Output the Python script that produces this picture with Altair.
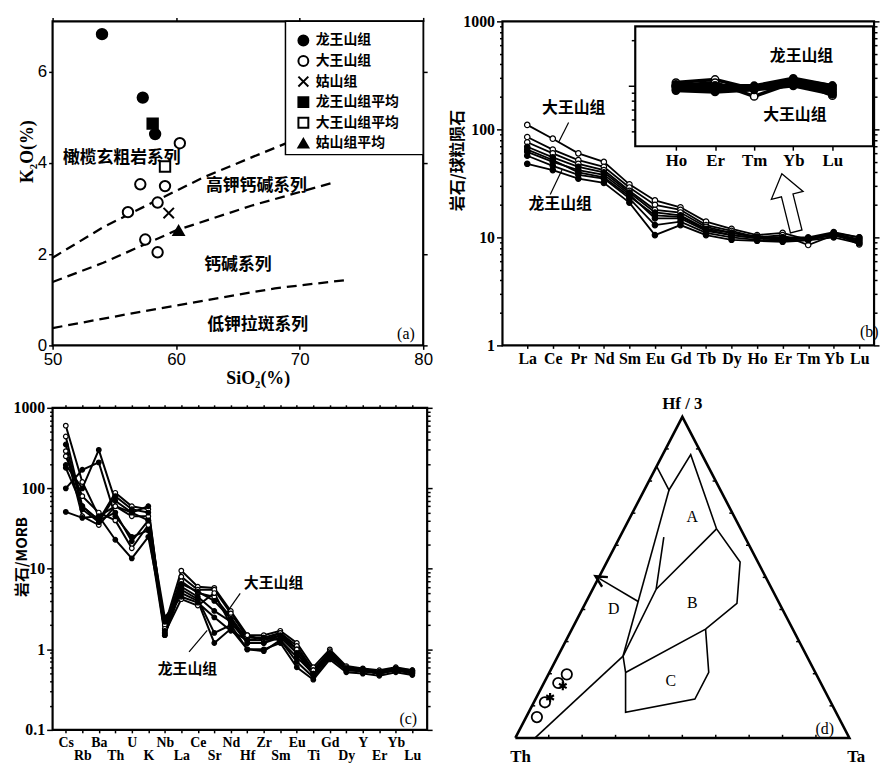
import altair as alt
import pandas as pd

SERIF = "Liberation Serif"
SANS = "Liberation Sans"
CJK = "Noto Sans CJK SC"

# ===================== (a) K2O - SiO2 =====================
a_groups = ["龙王山组", "大王山组", "姑山组", "龙王山组平均", "大王山组平均", "姑山组平均"]
lws_sio2 = [54.0, 57.3, 58.3]
lws_k2o = [6.82, 5.43, 4.63]
dws_sio2 = [60.3, 57.1, 59.1, 58.5, 56.1, 57.5, 58.5]
dws_k2o = [4.43, 3.53, 3.49, 3.13, 2.92, 2.32, 2.04]
gs_sio2 = [59.4]
gs_k2o = [2.90]
avg_sio2 = [58.1, 59.1, 60.2]
avg_k2o = [4.86, 3.92, 2.52]
bnd_upper_sio2 = [50, 54.1, 58.0, 62.2, 66.2, 70.0]
bnd_upper_k2o = [1.92, 2.59, 3.12, 3.68, 4.13, 4.55]
bnd_mid_sio2 = [50, 54.1, 60.0, 66.2, 72.9]
bnd_mid_k2o = [1.39, 1.81, 2.52, 3.07, 3.58]
bnd_low_sio2 = [50, 56.0, 62.2, 68.0, 73.7]
bnd_low_k2o = [0.38, 0.68, 0.98, 1.25, 1.43]
field_names = ["橄榄玄粗岩系列", "高钾钙碱系列", "钙碱系列", "低钾拉斑系列"]
field_sio2 = [55.6, 66.5, 65.0, 66.6]
field_k2o = [4.10, 3.49, 1.75, 0.44]
a_ticks_x = [50, 60, 70, 80]
a_ticks_y = [0, 2, 4, 6]
# legend box placement (in SiO2 / K2O units)
leg_box = [68.85, 80.0, 4.18, 7.1]
leg_sym_x = 70.3
leg_txt_x = 71.3
leg_row_y = [6.68, 6.23, 5.78, 5.33, 4.88, 4.43]

# ===================== (b) REE chondrite-normalised =====================
ree = ["La", "Ce", "Pr", "Nd", "Sm", "Eu", "Gd", "Tb", "Dy", "Ho", "Er", "Tm", "Yb", "Lu"]
b_series = ["D1", "D2", "D3", "L1", "L2", "L3", "L4", "L5"]
b_groups = ["大王山组", "大王山组", "大王山组", "龙王山组", "龙王山组", "龙王山组", "龙王山组", "龙王山组"]
b_D1 = [110, 82, 60, 50, 31, 22, 19, 14, 12.0, 10.5, 11.0, 9.5, 11.0, 10.0]
b_D2 = [85, 65, 52, 45, 29, 20, 18, 13, 11.5, 10.0, 10.5, 8.5, 10.5, 9.0]
b_D3 = [76, 60, 48, 42, 27, 18, 17, 12.5, 11.0, 10.0, 10.0, 9.8, 11.0, 8.6]
b_L1 = [69, 55, 45, 40, 26, 17, 16, 12, 11.0, 10.2, 10.0, 10.0, 11.2, 10.0]
b_L2 = [62, 50, 42, 38, 25, 15, 15, 11.5, 10.5, 9.8, 9.5, 9.8, 10.5, 9.5]
b_L3 = [57, 46, 38, 35, 23, 13, 14, 11, 10.0, 9.5, 9.3, 9.5, 10.5, 9.2]
b_L4 = [48, 42, 35, 32, 21, 10.5, 13, 10.5, 9.5, 9.3, 9.1, 9.4, 10.0, 8.8]
b_L5 = [65, 52, 40, 36, 24, 16, 15.5, 11.8, 10.5, 9.9, 9.8, 9.7, 10.8, 9.6]
b_values = [b_D1, b_D2, b_D3, b_L1, b_L2, b_L3, b_L4, b_L5]
b_label_text = ["大王山组", "龙王山组"]
b_label_x = [1.82, 1.29]
b_label_y = [158, 20.2]
b_lead_x = [1.62, 0.90]
b_lead_y = [116, 25]
b_lead_x2 = [1.23, 1.36]
b_lead_y2 = [76, 42]
b_arrow_x = [10.25]
b_arrow_y = [21]
inset_ree = ["Ho", "Er", "Tm", "Yb", "Lu"]
inset_label_text = ["龙王山组", "大王山组"]
inset_label_x = [3.21, 3.04]
inset_label_y = [15.7, 6.35]

# ===================== (c) MORB-normalised spider =====================
c_elems = ["Cs", "Rb", "Ba", "Th", "U", "K", "Nb", "La", "Ce", "Sr", "Nd",
           "Hf", "Zr", "Sm", "Eu", "Ti", "Gd", "Dy", "Y", "Er", "Yb", "Lu"]
c_groups = ["大王山组"] * 4 + ["龙王山组"] * 5
c_S1 = [600, 120, 45, 60, 50, 40, 2.0, 9.5, 6.0, 5.8, 3.0, 1.5, 1.5, 1.7, 1.2, 0.60, 1.00, 0.62, 0.58, 0.55, 0.60, 0.55]
c_S2 = [440, 60, 40, 88, 60, 55, 1.8, 8.0, 5.5, 5.5, 2.8, 1.4, 1.4, 1.6, 1.1, 0.55, 0.95, 0.60, 0.57, 0.53, 0.58, 0.55]
c_S3 = [290, 45, 35, 60, 45, 45, 1.6, 7.0, 5.0, 4.5, 2.5, 1.3, 1.3, 1.5, 1.0, 0.50, 0.90, 0.58, 0.55, 0.52, 0.57, 0.52]
c_S4 = [250, 80, 50, 40, 18, 35, 1.6, 4.2, 3.5, 5.0, 2.0, 1.5, 1.3, 1.6, 1.0, 0.55, 0.90, 0.57, 0.55, 0.50, 0.57, 0.53]
c_S5 = [195, 100, 300, 70, 50, 60, 1.5, 6.0, 4.5, 3.0, 2.2, 1.2, 1.2, 1.4, 0.9, 0.48, 0.85, 0.56, 0.55, 0.50, 0.56, 0.50]
c_S6 = [100, 170, 210, 45, 25, 30, 1.5, 5.5, 4.2, 1.6, 2.0, 1.0, 0.95, 1.3, 0.7, 0.45, 0.80, 0.55, 0.53, 0.50, 0.55, 0.52]
c_S7 = [51, 43, 45, 23, 13.5, 25, 2.2, 5.0, 4.0, 1.2, 1.8, 1.0, 1.0, 1.2, 0.6, 0.42, 0.75, 0.52, 0.50, 0.47, 0.52, 0.48]
c_S8 = [180, 60, 40, 50, 22, 40, 2.5, 4.5, 3.8, 2.5, 1.7, 1.3, 1.4, 1.3, 0.8, 0.50, 0.85, 0.55, 0.55, 0.50, 0.55, 0.50]
c_S9 = [350, 55, 38, 80, 55, 50, 1.7, 6.5, 5.2, 4.0, 2.4, 1.2, 1.2, 1.5, 0.9, 0.50, 0.90, 0.58, 0.56, 0.52, 0.58, 0.54]
c_values = [c_S1, c_S2, c_S3, c_S4, c_S5, c_S6, c_S7, c_S8, c_S9]
c_label_text = ["大王山组", "龙王山组"]
c_label_x = [12.59, 7.37]
c_label_y = [6.6, 0.575]
c_lead_x = [10.57, 7.47]
c_lead_y = [4.95, 0.93]
c_lead_x2 = [9.77, 8.57]
c_lead_y2 = [2.9, 1.72]

# ===================== (d) Hf/3 - Th - Ta ternary (hf, th, ta) =====================
d_outline = [(0, 1, 0), (0, 0, 1), (1, 0, 0), (0, 1, 0)]
d_seg_outer = [(0.846, 0.154, 0.000), (0.772, 0.154, 0.074), (0.882, 0.034, 0.084), (0.651, 0.072, 0.277),
               (0.548, 0.053, 0.399), (0.419, 0.127, 0.454), (0.339, 0.261, 0.400), (0.204, 0.568, 0.228)]
d_seg_ab = [(0.651, 0.072, 0.277), (0.463, 0.347, 0.190)]
d_seg_long = [(0.772, 0.154, 0.074), (0.255, 0.550, 0.195)]
d_seg_inner = [(0.625, 0.243, 0.132), (0.463, 0.347, 0.190), (0.255, 0.550, 0.195)]
d_seg_c = [(0.339, 0.261, 0.400), (0.204, 0.319, 0.477), (0.121, 0.402, 0.477), (0.080, 0.630, 0.290),
           (0.204, 0.568, 0.228), (0.255, 0.550, 0.195)]
d_seg_base = [(0.0, 0.941, 0.059), (0.255, 0.550, 0.195)]
d_arrow = [(0.424, 0.419, 0.157), (0.496, 0.500, 0.004)]
d_circles = [(0.065, 0.903, 0.032), (0.111, 0.856, 0.033), (0.171, 0.786, 0.043), (0.198, 0.747, 0.055)]
d_stars = [(0.126, 0.833, 0.041), (0.162, 0.777, 0.061)]
d_vertex_labels = ["Hf / 3", "Th", "Ta"]
d_vertex_pos = [(1.04, -0.02, -0.02), (-0.059, 1.014, 0.045), (-0.059, 0.0, 1.05)]
d_field_labels = ["A", "B", "C", "D", "(d)"]
d_field_pos = [(0.689, 0.126, 0.185), (0.419, 0.261, 0.320), (0.178, 0.446, 0.376),
               (0.401, 0.505, 0.094), (0.029, 0.059, 0.912)]
d_edge_ticks = [0.1, 0.2, 0.3, 0.4, 0.5, 0.6, 0.7, 0.8, 0.9]

# ===================== helpers =====================
X_PATH = "M-1,-1L1,1M-1,1L1,-1"
STAR_PATH = "M0,-1L0,1M-0.87,-0.5L0.87,0.5M-0.87,0.5L0.87,-0.5"
BLOCK_ARROW = "M0,-1L0.55,-0.25L0.2,-0.25L0.2,1L-0.2,1L-0.2,-0.25L-0.55,-0.25Z"
OPEN_HEAD = "M-0.7,0.8L0,-0.6L0.7,0.8"
TICK_UP = "M0,0L0,-1"
TICK_RIGHT = "M0,0L1,0"
TICK_LEFT = "M0,0L-1,0"
VIEW = alt.ViewBackground(stroke="black", strokeWidth=2.2)


def ax(**kw):
    base = dict(domain=False, grid=False, tickColor="black", tickWidth=1.5, tickSize=4,
                labelColor="black", labelFont=SERIF, labelFontSize=16, labelFontWeight="bold",
                labelFlush=False, labelOverlap=False, labelPadding=2, minExtent=0,
                titleColor="black", titleFont=SERIF, titleFontSize=18, titleFontWeight="bold")
    base.update(kw)
    return alt.Axis(**base)


def names_expr(names):
    return "[" + ",".join("'%s'" % n for n in names) + "][datum.value]"


def tick_cond(majors, big=6, small=3):
    return {"condition": {"test": "indexof(%s, datum.value) >= 0" % majors, "value": big}, "value": small}


def label_decades(majors):
    return "indexof(%s, datum.value) >= 0 ? '' + datum.value : ''" % majors


# ===================== panel (a) =====================
WA, HA = 374, 327
a_pts_df = pd.DataFrame({
    "sio2": lws_sio2 + dws_sio2 + gs_sio2 + avg_sio2,
    "k2o": lws_k2o + dws_k2o + gs_k2o + avg_k2o,
    "group": [a_groups[0]] * len(lws_sio2) + [a_groups[1]] * len(dws_sio2)
             + [a_groups[2]] * len(gs_sio2) + a_groups[3:],
})
rows = []
for name, xs, ys in [("upper", bnd_upper_sio2, bnd_upper_k2o), ("mid", bnd_mid_sio2, bnd_mid_k2o),
                     ("low", bnd_low_sio2, bnd_low_k2o)]:
    for i, (x, y) in enumerate(zip(xs, ys)):
        rows.append({"line": name, "ord": i, "sio2": x, "k2o": y})
a_bnd_df = pd.DataFrame(rows)
a_field_df = pd.DataFrame({"sio2": field_sio2, "k2o": field_k2o, "name": field_names})
a_tag_df = pd.DataFrame({"sio2": [78.6], "k2o": [0.24], "name": ["(a)"]})
a_legbox_df = pd.DataFrame({"x": [leg_box[0]], "x2": [leg_box[1]], "y": [leg_box[2]], "y2": [leg_box[3]]})
a_legrow_df = pd.DataFrame({"group": a_groups, "sx": [leg_sym_x] * len(a_groups),
                            "tx": [leg_txt_x] * len(a_groups), "y": leg_row_y})

sx_a = alt.Scale(domain=[50, 80], nice=False, zero=False)
sy_a = alt.Scale(domain=[0, 7.1], nice=False, zero=False)
shape_a = alt.Scale(domain=a_groups, range=["circle", "circle", X_PATH, "square", "square", "triangle-up"])
fill_a = alt.Scale(domain=a_groups, range=["black", "white", "transparent", "black", "white", "black"])

a_lines = alt.Chart(a_bnd_df).mark_line(color="black", strokeWidth=2.3, strokeDash=[10, 6]).encode(
    x=alt.X("sio2:Q", scale=sx_a, axis=ax(orient="top", labels=False, title=None, values=a_ticks_x)),
    y=alt.Y("k2o:Q", scale=sy_a, axis=ax(orient="right", labels=False, title=None, values=a_ticks_y)),
    detail="line:N", order="ord:Q")

a_text = alt.Chart(a_field_df).mark_text(font=CJK, fontSize=17, fontWeight="bold", color="black").encode(
    x=alt.X("sio2:Q", scale=sx_a, axis=None), y=alt.Y("k2o:Q", scale=sy_a, axis=None), text="name:N")

a_pts = alt.Chart(a_pts_df).mark_point(size=110, stroke="black", strokeWidth=2, opacity=1, fillOpacity=1).encode(
    x=alt.X("sio2:Q", scale=sx_a, axis=ax(orient="bottom", values=a_ticks_x, title="SiO₂(%)",
                                            labelFont=SANS, labelFontWeight="normal", labelFontSize=17,
                                            titlePadding=2, titleX=207)),
    y=alt.Y("k2o:Q", scale=sy_a, axis=ax(orient="left", values=a_ticks_y, title="K₂O(%)",
                                           labelFont=SANS, labelFontWeight="normal", labelFontSize=17,
                                           titleX=-25, titleY=131, titleBaseline="middle")),
    shape=alt.Shape("group:N", scale=shape_a, legend=None),
    fill=alt.Fill("group:N", scale=fill_a, legend=None),
)

a_legbox = alt.Chart(a_legbox_df).mark_rect(fill="white", stroke="black", strokeWidth=1.5).encode(
    x=alt.X("x:Q", scale=sx_a, axis=None), x2="x2:Q", y=alt.Y("y:Q", scale=sy_a, axis=None), y2="y2:Q")
a_legsym = alt.Chart(a_legrow_df).mark_point(size=100, stroke="black", strokeWidth=2, opacity=1,
                                            fillOpacity=1).encode(
    x=alt.X("sx:Q", scale=sx_a, axis=None), y=alt.Y("y:Q", scale=sy_a, axis=None),
    shape=alt.Shape("group:N", scale=shape_a, legend=None),
    fill=alt.Fill("group:N", scale=fill_a, legend=None))
a_legtxt = alt.Chart(a_legrow_df).mark_text(font=CJK, fontSize=14, fontWeight="bold", color="black",
                                           align="left").encode(
    x=alt.X("tx:Q", scale=sx_a, axis=None), y=alt.Y("y:Q", scale=sy_a, axis=None), text="group:N")

a_tag = alt.Chart(a_tag_df).mark_text(font=SERIF, fontSize=16, color="black").encode(
    x=alt.X("sio2:Q", scale=sx_a, axis=None), y=alt.Y("k2o:Q", scale=sy_a, axis=None), text="name:N")

panel_a = alt.layer(a_lines, a_text, a_pts, a_legbox, a_legsym, a_legtxt, a_tag).resolve_axis(
    x="independent", y="independent").properties(width=WA, height=HA, view=VIEW)

# ===================== panel (b) =====================
WB, HB = 375, 327
rows = []
for s, g, vals in zip(b_series, b_groups, b_values):
    for i, v in enumerate(vals):
        rows.append({"series": s, "group": g, "idx": i, "value": v})
b_df = pd.DataFrame(rows)
b_lab_df = pd.DataFrame({"x": b_label_x, "y": b_label_y, "t": b_label_text})
b_lead_df = pd.DataFrame({"x": b_lead_x, "y": b_lead_y, "x2": b_lead_x2, "y2": b_lead_y2})
b_arrow_df = pd.DataFrame({"x": b_arrow_x, "y": b_arrow_y})
b_tag_df = pd.DataFrame({"x": [13.39], "y": [1.34], "t": ["(b)"]})

sx_b = alt.Scale(domain=[-0.97, 13.58], nice=False, zero=False)
sy_b = alt.Scale(type="log", domain=[1, 1000], nice=False)
b_ticks = [k * 10 ** e for e in range(0, 3) for k in range(1, 10)] + [1000]
B_MAJ = "[1,10,100,1000]"
fill_grp = alt.Scale(domain=["大王山组", "龙王山组"], range=["white", "black"])

b_lines = alt.Chart(b_df).mark_line(color="black", strokeWidth=1.8).encode(
    x=alt.X("idx:Q", scale=sx_b, axis=ax(orient="bottom", values=list(range(len(ree))),
                                          labelExpr=names_expr(ree), title=None, tickSize=3, labelFontSize=16)),
    y=alt.Y("value:Q", scale=sy_b, axis=ax(orient="left", values=b_ticks, labelExpr=label_decades(B_MAJ),
                                            tickSize=tick_cond(B_MAJ), title="岩石/球粒陨石", titleFont=CJK,
                                            titleFontSize=16, titleX=-45, titleY=140, titleBaseline="middle",
                                            labelFontSize=16)),
    detail="series:N", order="idx:Q")
b_pts = alt.Chart(b_df).mark_point(size=30, stroke="black", strokeWidth=1.2, opacity=1, fillOpacity=1,
                                   shape="circle").encode(
    x=alt.X("idx:Q", scale=sx_b, axis=None),
    y=alt.Y("value:Q", scale=sy_b, axis=ax(orient="right", values=b_ticks, labels=False,
                                            tickSize=tick_cond(B_MAJ, 5, 3), title=None)),
    fill=alt.Fill("group:N", scale=fill_grp, legend=None))
b_lab = alt.Chart(b_lab_df).mark_text(font=CJK, fontSize=16, fontWeight="bold", color="black").encode(
    x=alt.X("x:Q", scale=sx_b, axis=None), y=alt.Y("y:Q", scale=sy_b, axis=None), text="t:N")
b_lead = alt.Chart(b_lead_df).mark_rule(color="black", strokeWidth=1.2).encode(
    x=alt.X("x:Q", scale=sx_b, axis=None), y=alt.Y("y:Q", scale=sy_b, axis=None), x2="x2:Q", y2="y2:Q")
b_arrow = alt.Chart(b_arrow_df).mark_point(shape=BLOCK_ARROW, size=3600, angle=346, fill="white",
                                           stroke="black", strokeWidth=1.3, opacity=1, fillOpacity=1).encode(
    x=alt.X("x:Q", scale=sx_b, axis=None), y=alt.Y("y:Q", scale=sy_b, axis=None))
b_tag = alt.Chart(b_tag_df).mark_text(font=SERIF, fontSize=16, color="black").encode(
    x=alt.X("x:Q", scale=sx_b, axis=None), y=alt.Y("y:Q", scale=sy_b, axis=None), text="t:N")

b_main = alt.layer(b_lines, b_pts, b_lab, b_lead, b_arrow, b_tag).resolve_axis(x="independent", y="independent")

# inset
I_X0, I_X1 = -1.04, 5.04
I_Y0, I_Y1 = 3.97, 24.8
sx_i = alt.Scale(domain=[I_X0, I_X1], range=[134, 374], nice=False, zero=False)
sy_i = alt.Scale(type="log", domain=[I_Y0, I_Y1], range=[126, 5], nice=False)
i_frame_df = pd.DataFrame({"x": [I_X0], "x2": [I_X1], "y": [I_Y0], "y2": [I_Y1]})
i_lab_df = pd.DataFrame({"x": inset_label_x, "y": inset_label_y, "t": inset_label_text})

i_rect = alt.Chart(i_frame_df).mark_rect(fill="white", stroke="black", strokeWidth=2.2).encode(
    x=alt.X("x:Q", scale=sx_i, axis=ax(orient="bottom", offset=-(HB - 126), values=list(range(5)),
                                        labelExpr=names_expr(inset_ree), title=None, labelFontSize=17)),
    x2="x2:Q",
    y=alt.Y("y:Q", scale=sy_i, axis=ax(orient="left", offset=-134, values=[5, 6, 7, 8, 9, 10, 20],
                                        labels=False, title=None, tickSize=tick_cond("[10]", 7, 4))),
    y2="y2:Q")
i_lines = alt.Chart(b_df).transform_filter("datum.idx >= 9").transform_calculate(
    hidx="datum.idx - 9").mark_line(color="black", strokeWidth=3.5).encode(
    x=alt.X("hidx:Q", scale=sx_i, axis=None), y=alt.Y("value:Q", scale=sy_i, axis=None),
    detail="series:N", order="hidx:Q")
i_pts = alt.Chart(b_df).transform_filter("datum.idx >= 9").transform_calculate(
    hidx="datum.idx - 9").mark_point(size=55, stroke="black", strokeWidth=1.5, opacity=1, fillOpacity=1,
                                     shape="circle").encode(
    x=alt.X("hidx:Q", scale=sx_i, axis=None), y=alt.Y("value:Q", scale=sy_i, axis=None),
    fill=alt.Fill("group:N", scale=fill_grp, legend=None))
i_lab = alt.Chart(i_lab_df).mark_text(font=CJK, fontSize=16, fontWeight="bold", color="black").encode(
    x=alt.X("x:Q", scale=sx_i, axis=None), y=alt.Y("y:Q", scale=sy_i, axis=None), text="t:N")
b_inset = alt.layer(i_rect, i_lines, i_pts, i_lab).resolve_axis(x="independent", y="independent")

panel_b = alt.layer(b_main, b_inset).resolve_scale(x="independent", y="independent").properties(
    width=WB, height=HB, view=VIEW)

# ===================== panel (c) =====================
WC, HC = 378, 325
rows = []
for si, (g, vals) in enumerate(zip(c_groups, c_values)):
    for i, v in enumerate(vals):
        rows.append({"series": "S%d" % si, "group": g, "idx": i, "value": v})
c_df = pd.DataFrame(rows)
c_lab_df = pd.DataFrame({"x": c_label_x, "y": c_label_y, "t": c_label_text})
c_lead_df = pd.DataFrame({"x": c_lead_x, "y": c_lead_y, "x2": c_lead_x2, "y2": c_lead_y2})
c_tag_df = pd.DataFrame({"x": [20.76], "y": [0.138], "t": ["(c)"]})

sx_c = alt.Scale(domain=[-0.8, 21.9], nice=False, zero=False)
sy_c = alt.Scale(type="log", domain=[0.1, 1000], nice=False)
c_ticks = [round(k * 10.0 ** e, 6) for e in range(-1, 3) for k in range(1, 10)] + [1000]
C_MAJ = "[0.1,1,10,100,1000]"

c_lines = alt.Chart(c_df).mark_line(color="black", strokeWidth=2).encode(
    x=alt.X("idx:Q", scale=sx_c, axis=ax(orient="bottom", values=list(range(len(c_elems))),
                                          labelExpr=names_expr(c_elems), title=None, tickSize=3,
                                          labelFontSize=14,
                                          labelPadding={"condition": {"test": "datum.value % 2 == 1",
                                                                      "value": 16}, "value": 3})),
    y=alt.Y("value:Q", scale=sy_c, axis=ax(orient="left", values=c_ticks, labelExpr=label_decades(C_MAJ),
                                            tickSize=tick_cond(C_MAJ), title="岩石/MORB", titleFont=CJK,
                                            titleFontSize=15, titleX=-31, titleY=150, titleBaseline="middle",
                                            labelFontSize=16)),
    detail="series:N", order="idx:Q")
c_pts = alt.Chart(c_df).mark_point(size=22, stroke="black", strokeWidth=1.2, opacity=1, fillOpacity=1,
                                   shape="circle").encode(
    x=alt.X("idx:Q", scale=sx_c, axis=ax(orient="top", values=list(range(len(c_elems))), labels=False,
                                          title=None, tickSize=3)),
    y=alt.Y("value:Q", scale=sy_c, axis=ax(orient="right", values=c_ticks, labels=False,
                                            tickSize=tick_cond(C_MAJ, 5, 3), title=None)),
    fill=alt.Fill("group:N", scale=fill_grp, legend=None))
c_lab = alt.Chart(c_lab_df).mark_text(font=CJK, fontSize=15, fontWeight="bold", color="black").encode(
    x=alt.X("x:Q", scale=sx_c, axis=None), y=alt.Y("y:Q", scale=sy_c, axis=None), text="t:N")
c_lead = alt.Chart(c_lead_df).mark_rule(color="black", strokeWidth=1.2).encode(
    x=alt.X("x:Q", scale=sx_c, axis=None), y=alt.Y("y:Q", scale=sy_c, axis=None), x2="x2:Q", y2="y2:Q")
c_tag = alt.Chart(c_tag_df).mark_text(font=SERIF, fontSize=16, color="black").encode(
    x=alt.X("x:Q", scale=sx_c, axis=None), y=alt.Y("y:Q", scale=sy_c, axis=None), text="t:N")

panel_c = alt.layer(c_lines, c_pts, c_lab, c_lead, c_tag).resolve_axis(
    x="independent", y="independent").properties(width=WC, height=HC, view=VIEW)


# ===================== panel (d) =====================
def tern(p):
    hf, th, ta = p
    return ta + 0.5 * hf, hf


def poly_df(segs):
    out = []
    for name, pts in segs:
        for i, p in enumerate(pts):
            x, y = tern(p)
            out.append({"seg": name, "ord": i, "x": x, "y": y})
    return pd.DataFrame(out)


def pts_df(pts):
    return pd.DataFrame([dict(zip(["x", "y"], tern(p))) for p in pts])


WD, HD = 375, 350
sx_d = alt.Scale(domain=[-0.0386, 1.074], nice=False, zero=False)
sy_d = alt.Scale(domain=[-0.052, 1.028], nice=False, zero=False)

d_out_df = poly_df([("outline", d_outline)])
d_seg_df = poly_df([("outer", d_seg_outer), ("ab", d_seg_ab), ("long", d_seg_long), ("inner", d_seg_inner),
                    ("c", d_seg_c), ("base", d_seg_base), ("arrow", d_arrow)])
d_head_df = pts_df(d_arrow[-1:])
d_circ_df = pts_df(d_circles)
d_star_df = pts_df(d_stars)
d_vlab_df = pd.DataFrame([{"x": tern(p)[0], "y": tern(p)[1], "t": t} for t, p in zip(d_vertex_labels, d_vertex_pos)])
d_flab_df = pd.DataFrame([{"x": tern(p)[0], "y": tern(p)[1], "t": t} for t, p in zip(d_field_labels, d_field_pos)])
d_tick_base_df = pts_df([(0.0, 1 - f, f) for f in d_edge_ticks])
d_tick_left_df = pts_df([(f, 1 - f, 0.0) for f in d_edge_ticks])
d_tick_right_df = pts_df([(f, 0.0, 1 - f) for f in d_edge_ticks])

XD = alt.X("x:Q", scale=sx_d, axis=None)
YD = alt.Y("y:Q", scale=sy_d, axis=None)
d_outline_l = alt.Chart(d_out_df).mark_line(color="black", strokeWidth=2.6).encode(x=XD, y=YD, order="ord:Q")
d_segs = alt.Chart(d_seg_df).mark_line(color="black", strokeWidth=1.6).encode(
    x=XD, y=YD, detail="seg:N", order="ord:Q")
d_tb = alt.Chart(d_tick_base_df).mark_point(shape=TICK_UP, size=40, stroke="black", strokeWidth=1.5,
                                            filled=False, opacity=1).encode(x=XD, y=YD)
d_tl = alt.Chart(d_tick_left_df).mark_point(shape=TICK_RIGHT, size=40, stroke="black", strokeWidth=1.5,
                                            filled=False, opacity=1).encode(x=XD, y=YD)
d_tr = alt.Chart(d_tick_right_df).mark_point(shape=TICK_LEFT, size=40, stroke="black", strokeWidth=1.5,
                                             filled=False, opacity=1).encode(x=XD, y=YD)
d_head = alt.Chart(d_head_df).mark_point(shape=OPEN_HEAD, size=260, angle=301, stroke="black", strokeWidth=2.4,
                                         filled=False, opacity=1).encode(x=XD, y=YD)
d_circ = alt.Chart(d_circ_df).mark_point(shape="circle", size=110, stroke="black", strokeWidth=1.8,
                                         filled=False, opacity=1).encode(x=XD, y=YD)
d_star = alt.Chart(d_star_df).mark_point(shape=STAR_PATH, size=80, stroke="black", strokeWidth=2.2,
                                         filled=False, opacity=1).encode(x=XD, y=YD)
d_vlab = alt.Chart(d_vlab_df).mark_text(font=SERIF, fontSize=17, fontWeight="bold", color="black").encode(
    x=XD, y=YD, text="t:N")
d_flab = alt.Chart(d_flab_df).mark_text(font=SERIF, fontSize=16, color="black").encode(x=XD, y=YD, text="t:N")

panel_d = alt.layer(d_outline_l, d_segs, d_tb, d_tl, d_tr, d_head, d_circ, d_star, d_vlab, d_flab).properties(
    width=WD, height=HD)

# ===================== assemble =====================
chart = alt.concat(panel_a, panel_b, panel_c, panel_d, columns=2,
                   spacing={"row": 63, "column": 76}).properties(
    bounds="flush", align="each",
    padding={"left": 3, "top": 0, "right": 0, "bottom": 0}
).resolve_scale(fill="independent", shape="independent").configure_view(stroke="transparent")

chart.save("out.html", embed_options={"renderer": "svg", "actions": False})
